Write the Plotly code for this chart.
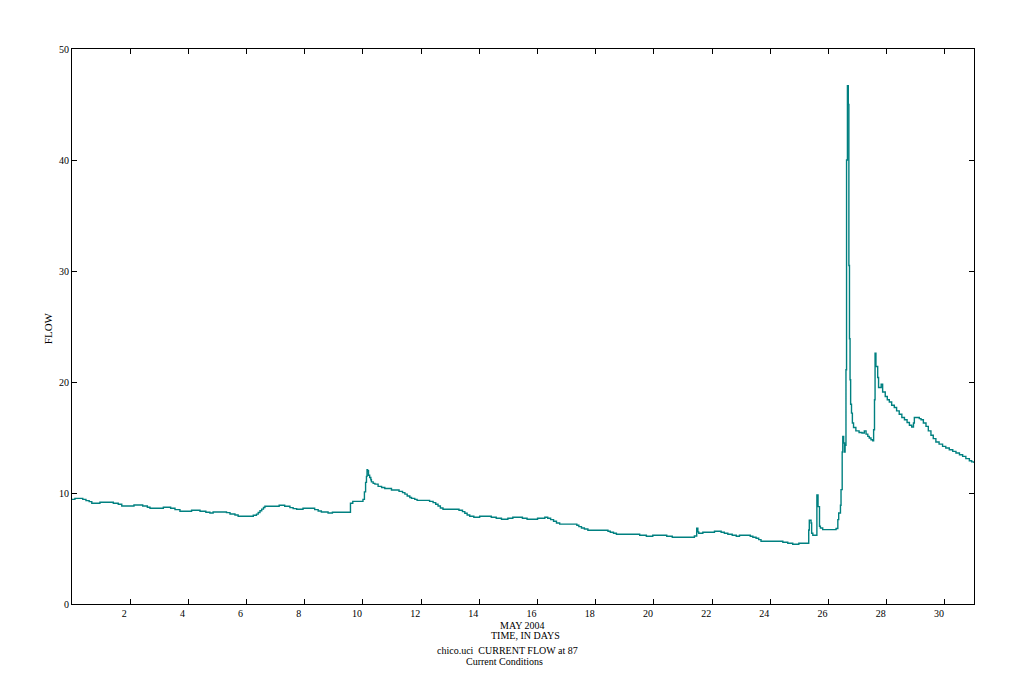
import plotly.graph_objs as go

# step data: day of month (May 2004) and flow value
days = [
    0.00, 0.10, 0.37, 0.48, 0.59, 0.68, 0.96, 1.42, 1.59, 1.71,
    2.13, 2.43, 2.59, 2.68, 3.14, 3.39, 3.54, 3.71, 4.11, 4.40,
    4.60, 4.74, 4.85, 5.31, 5.43, 5.60, 5.71, 6.23, 6.34, 6.40,
    6.46, 6.52, 6.58, 6.63, 7.12, 7.31, 7.49, 7.60, 7.72, 7.94,
    8.34, 8.46, 8.57, 8.80, 8.95, 9.57, 9.65, 10.00, 10.05, 10.09,
    10.12, 10.14, 10.16, 10.19, 10.23, 10.27, 10.29, 10.35, 10.41, 10.52,
    10.64, 10.75, 10.98, 11.24, 11.36, 11.44, 11.52, 11.61, 11.67, 11.78,
    11.86, 12.29, 12.41, 12.50, 12.58, 12.66, 12.75, 13.30, 13.42, 13.50,
    13.58, 13.67, 13.81, 14.01, 14.41, 14.58, 14.76, 14.98, 15.15, 15.48,
    15.64, 16.00, 16.25, 16.35, 16.45, 16.55, 16.65, 16.76, 17.35, 17.42,
    17.51, 17.61, 17.73, 18.42, 18.50, 18.61, 18.71, 19.51, 19.74, 19.96,
    20.44, 20.63, 21.39, 21.47, 21.51, 21.54, 21.68, 22.08, 22.31, 22.42,
    22.54, 22.69, 22.83, 22.94, 23.31, 23.40, 23.51, 23.60, 23.68, 24.43,
    24.60, 24.77, 24.98, 25.32, 25.34, 25.40, 25.42, 25.46, 25.60, 25.64,
    25.69, 25.72, 25.80, 26.26, 26.32, 26.35, 26.41, 26.43, 26.47, 26.49,
    26.52, 26.55, 26.57, 26.60, 26.62, 26.65, 26.68, 26.70, 26.72, 26.74,
    26.76, 26.79, 26.82, 26.86, 26.94, 27.05, 27.15, 27.23, 27.29, 27.35,
    27.40, 27.46, 27.52, 27.55, 27.58, 27.60, 27.63, 27.69, 27.72, 27.81,
    27.86, 27.95, 28.02, 28.09, 28.17, 28.26, 28.34, 28.43, 28.52, 28.61,
    28.70, 28.78, 28.86, 28.92, 28.95, 29.06, 29.12, 29.18, 29.26, 29.35,
    29.43, 29.52, 29.60, 29.69, 29.80, 29.92, 30.03, 30.15, 30.27, 30.38,
    30.50, 30.61, 30.72, 30.84, 30.92, 31.00,
]
flow = [
    9.43, 9.52, 9.43, 9.31, 9.22, 9.07, 9.16, 9.07, 8.98, 8.83,
    8.92, 8.83, 8.71, 8.62, 8.71, 8.62, 8.50, 8.35, 8.44, 8.35,
    8.26, 8.20, 8.29, 8.23, 8.11, 8.02, 7.90, 7.99, 8.10, 8.25,
    8.40, 8.55, 8.70, 8.80, 8.89, 8.80, 8.68, 8.59, 8.53, 8.62,
    8.50, 8.38, 8.29, 8.20, 8.26, 9.07, 9.25, 9.43, 10.10, 10.96,
    11.50, 12.10, 12.00, 11.60, 11.40, 11.20, 11.00, 10.87, 10.80, 10.60,
    10.50, 10.40, 10.27, 10.15, 10.03, 9.90, 9.73, 9.60, 9.52, 9.43,
    9.34, 9.25, 9.13, 8.98, 8.83, 8.65, 8.53, 8.44, 8.32, 8.17,
    8.02, 7.90, 7.81, 7.90, 7.81, 7.72, 7.63, 7.72, 7.81, 7.72,
    7.63, 7.72, 7.81, 7.72, 7.60, 7.45, 7.30, 7.20, 7.09, 6.97,
    6.85, 6.76, 6.64, 6.55, 6.46, 6.37, 6.28, 6.19, 6.10, 6.19,
    6.10, 6.01, 6.13, 6.82, 6.50, 6.37, 6.46, 6.55, 6.46, 6.37,
    6.28, 6.19, 6.10, 6.19, 6.10, 6.01, 5.92, 5.80, 5.65, 5.56,
    5.47, 5.38, 5.47, 6.67, 7.55, 7.30, 6.37, 6.19, 9.82, 8.77,
    7.00, 6.85, 6.70, 6.80, 7.60, 8.20, 8.90, 10.30, 13.70, 15.10,
    14.50, 13.70, 14.30, 21.10, 40.00, 46.70, 45.00, 30.50, 23.90, 20.20,
    18.00, 17.20, 16.30, 15.90, 15.60, 15.45, 15.40, 15.60, 15.30, 15.10,
    14.95, 14.80, 14.70, 15.70, 18.40, 22.60, 21.40, 20.40, 19.50, 19.80,
    19.10, 18.70, 18.40, 18.20, 17.90, 17.70, 17.40, 17.10, 16.80, 16.60,
    16.35, 16.10, 15.95, 16.30, 16.80, 16.80, 16.70, 16.60, 16.30, 16.00,
    15.60, 15.20, 14.90, 14.60, 14.40, 14.20, 14.05, 13.90, 13.75, 13.60,
    13.45, 13.30, 13.10, 12.90, 12.80, 12.70,
]

x_ticks = list(range(2, 31, 2))
y_ticks = [0, 10, 20, 30, 40, 50]

font = dict(family="Liberation Serif, Times New Roman, serif", size=10, color="black")

fig = go.Figure()
fig.add_trace(go.Scatter(
    x=days,
    y=flow,
    mode="lines",
    line=dict(color="#008080", width=1.4, shape="hv"),
    showlegend=False,
))

axis_style = dict(
    showline=True,
    linecolor="black",
    linewidth=1.2,
    mirror="ticks",
    ticks="inside",
    ticklen=5,
    tickwidth=1,
    tickcolor="black",
    showgrid=False,
    zeroline=False,
    tickfont=font,
)

# day labels sit a few pixels left of their ticks in the original
fig.update_xaxes(range=[0, 31], tickvals=x_ticks, ticklabelshift=-6, **axis_style)
fig.update_yaxes(range=[0, 50], tickvals=y_ticks, **axis_style)

# captions below the plot
captions = [
    ("MAY 2004", 0.499, -0.038),
    ("TIME, IN DAYS", 0.503, -0.056),
    ("chico.uci&nbsp;&nbsp;CURRENT FLOW at 87", 0.483, -0.083),
    ("Current Conditions", 0.480, -0.1045),
]
for text, cx, cy in captions:
    fig.add_annotation(text=text, x=cx, y=cy, xref="paper", yref="paper",
                       showarrow=False, xanchor="center", yanchor="middle", font=font)

fig.add_annotation(text="FLOW", x=-0.0266, y=0.497, xref="paper", yref="paper",
                   showarrow=False, textangle=-90, xanchor="center", yanchor="middle",
                   font=dict(family=font["family"], size=11, color="black"))

# the page puts the figure 8px in from the top-left corner
fig.update_layout(
    width=1014,
    height=692,
    margin=dict(l=64, r=48, t=41, b=96),
    plot_bgcolor="white",
    paper_bgcolor="white",
    font=font,
)

fig.write_html("out.html")
